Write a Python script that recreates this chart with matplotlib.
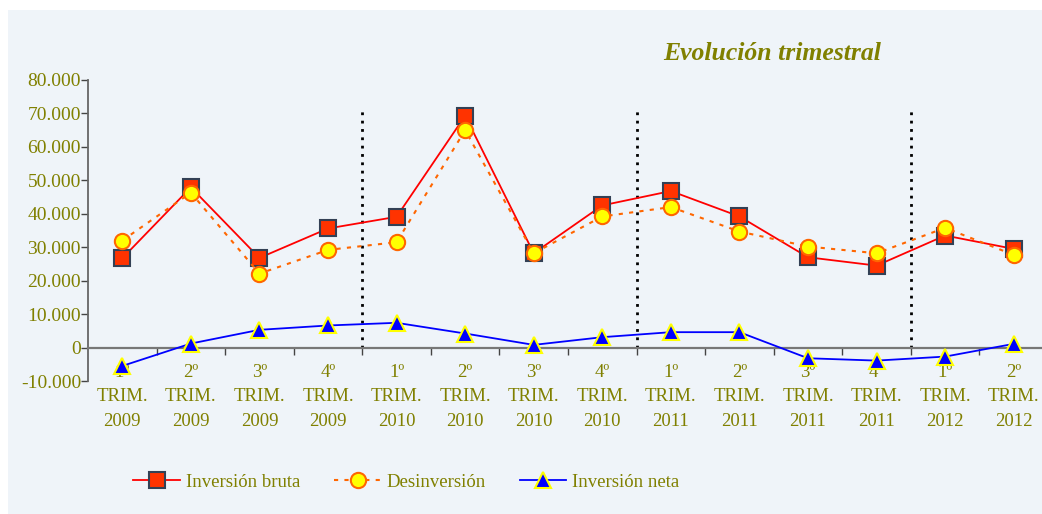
import matplotlib.pyplot as plt
import matplotlib.patches as mpatches
import numpy as np

# Datos trimestrales (miles de euros aprox.)
trimestres = ['1º', '2º', '3º', '4º', '1º', '2º', '3º', '4º', '1º', '2º', '3º', '4º', '1º', '2º']
anios = ['2009'] * 4 + ['2010'] * 4 + ['2011'] * 4 + ['2012'] * 2
inversion_bruta = [26700, 47900, 26800, 35600, 39100, 69300, 28200, 42500, 46800, 39200, 27000, 24500, 33500, 29500]
desinversion = [32000, 46300, 22100, 29200, 31500, 65000, 28200, 39200, 42000, 34700, 30200, 28200, 35800, 27700]
inversion_neta = [-5500, 1200, 5300, 6600, 7400, 4200, 800, 3100, 4600, 4600, -3200, -3900, -2700, 1100]
separadores = [3.5, 7.5, 11.5]

olive = '#808000'
bg = '#eff4f9'

plt.rcParams['font.family'] = ['Liberation Serif', 'DejaVu Serif']

fig = plt.figure(figsize=(10.42, 5.14), dpi=100, facecolor='white')
fig.patches.append(mpatches.Rectangle((8 / 1042, 0), 1, 1 - 10 / 514, transform=fig.transFigure,
                                      facecolor=bg, edgecolor='none', zorder=-10))

ax = fig.add_axes([88 / 1042, 1 - 381 / 514, (1048 - 88) / 1042, (381 - 80) / 514])
ax.set_facecolor('none')

x = np.arange(len(trimestres))
labels = [t + '\nTRIM.\n' + a for t, a in zip(trimestres, anios)]

for s in separadores:
    ax.plot([s, s], [0, 71500], color='black', linestyle=(0, (1, 2)), linewidth=2, zorder=2)

ax.plot(x, inversion_bruta, color='#ff0000', linewidth=1.3, marker='s', markersize=11,
        markerfacecolor='#ff3300', markeredgecolor='#334055', markeredgewidth=1.5,
        label='Inversión bruta', zorder=4)
ax.plot(x, desinversion, color='#ff6600', linewidth=1.5, linestyle=(0, (2, 3)), marker='o', markersize=11,
        markerfacecolor='#ffff00', markeredgecolor='#ff6600', markeredgewidth=1.5,
        label='Desinversión', zorder=5)
ax.plot(x, inversion_neta, color='#0000ff', linewidth=1.3, marker='^', markersize=11,
        markerfacecolor='#0000ff', markeredgecolor='#ffff00', markeredgewidth=1.5,
        label='Inversión neta', zorder=6, clip_on=False)

ax.set_xlim(-0.5, len(trimestres) - 0.5)
ax.set_ylim(-10000, 80000)
ax.set_yticks(np.arange(-10000, 80001, 10000))
ax.set_yticklabels(['-10.000', '0'] + ['%d0.000' % i for i in range(1, 9)])

ax.spines['top'].set_visible(False)
ax.spines['right'].set_visible(False)
ax.spines['bottom'].set_position(('data', 0))
ax.spines['bottom'].set_color('#777777')
ax.spines['bottom'].set_linewidth(1.6)
ax.spines['left'].set_color('#666666')
ax.spines['left'].set_linewidth(1.3)

ax.set_xticks(x)
ax.set_xticklabels(labels, linespacing=1.55)
ax.set_xticks(np.arange(0.5, len(trimestres) - 0.5), minor=True)
ax.tick_params(axis='x', which='major', length=0, pad=12, labelsize=13.5, labelcolor=olive)
ax.tick_params(axis='x', which='minor', length=5, width=1, color='#444444', direction='out')
ax.tick_params(axis='y', length=5, width=1, color='#444444', labelsize=14, labelcolor=olive, pad=0)

fig.text(0.741, 1 - 53 / 514, 'Evolución trimestral', ha='center', va='center',
         fontsize=18.5, fontweight='bold', fontstyle='italic', color=olive)

leg = fig.legend(loc='center', bbox_to_anchor=(0.39, 1 - 482 / 514), ncol=3, frameon=False,
                 fontsize=13.5, handlelength=2.5, handletextpad=0.3, columnspacing=1.8)
for t in leg.get_texts():
    t.set_color(olive)

fig.savefig('out.png', dpi=100, facecolor=fig.get_facecolor())
